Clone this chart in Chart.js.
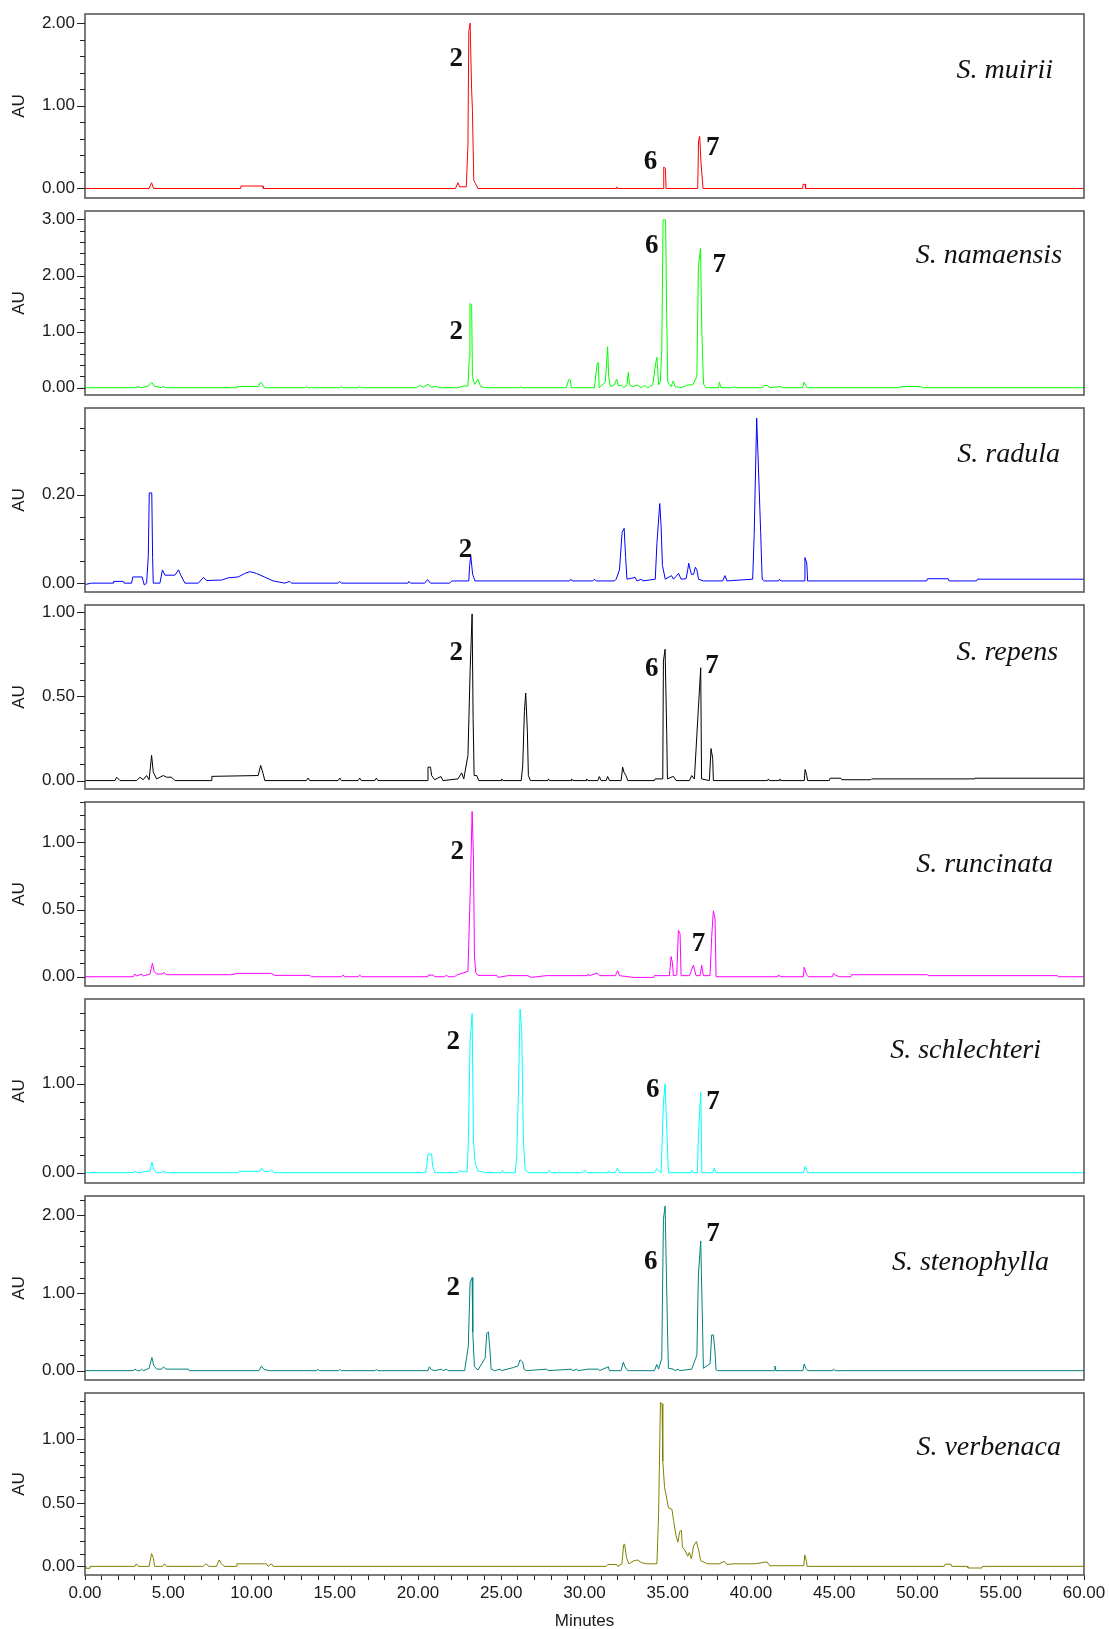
<!DOCTYPE html>
<html>
<head>
<meta charset="utf-8">
<script src="https://cdn.jsdelivr.net/npm/chart.js@4.4.1/dist/chart.umd.min.js"></script>
<style>
  body { margin: 0; background: #fff; }
  #figura { position: relative; width: 1109px; height: 1629px; overflow: hidden; }
  #figura canvas { position: absolute; left: 0; }
</style>
</head>
<body>
<div id="figura"></div>
<script>
// Nombres de las especies, de arriba hacia abajo
const especies = ['S. muirii', 'S. namaensis', 'S. radula', 'S. repens',
                  'S. runcinata', 'S. schlechteri', 'S. stenophylla', 'S. verbenaca'];

// Cromatogramas: [minutos, AU]
const muirii = [[0,0],[3.85,0],[4.0,0.07],[4.12,0],[9.35,0],[9.36,0.03],[10.7,0.03],[10.71,0],
  [22.25,0],[22.4,0.07],[22.5,0.02],[22.9,0.02],[23.0,0.52],[23.05,1.9],[23.13,2.0],[23.22,1.2],
  [23.27,0.94],[23.35,0.1],[23.45,0.06],[23.6,0],[31.9,0],[31.95,0.02],[32.0,0],[34.72,0],
  [34.76,0.26],[34.86,0.24],[34.9,0],[36.8,0],[36.85,0.58],[36.92,0.63],[37.0,0.3],[37.12,0],
  [43.1,0],[43.13,0.05],[43.25,0.05],[43.28,0],[60,0]];

const namaensis = [[0,0],[3.0,0],[3.2,0.02],[3.4,0],[3.8,0.03],[4.0,0.1],[4.15,0.03],[4.6,0],
  [4.7,0.03],[4.8,0],[9.1,0],[9.12,0.02],[10.4,0.02],[10.55,0.1],[10.7,0.04],[10.8,0],[13.2,0],
  [13.3,0.02],[13.4,0],[15.3,0],[15.4,0.02],[15.5,0],[16.4,0],[16.5,0.02],[16.6,0],[19.9,0],
  [20.1,0.04],[20.3,0.01],[20.6,0.06],[20.8,0.01],[21.1,0.02],[21.3,0],[22.4,0],[22.7,0.03],
  [23.0,0.03],[23.08,0.54],[23.12,1.5],[23.22,1.48],[23.27,0.2],[23.4,0.06],[23.6,0.15],
  [23.75,0.03],[24.0,0],[26.1,0],[26.15,0.02],[26.2,0],[28.9,0],[29.05,0.14],[29.15,0.14],
  [29.2,0],[30.6,0],[30.75,0.42],[30.83,0.45],[30.88,0],[31.25,0.1],[31.39,0.73],[31.45,0.2],
  [31.55,0.02],[31.8,0.05],[31.93,0.15],[32.05,0.03],[32.2,0.05],[32.35,0],[32.55,0.05],
  [32.63,0.27],[32.7,0.05],[32.9,0.02],[33.2,0.05],[33.4,0],[33.6,0.04],[33.8,0],[34.1,0.05],
  [34.28,0.45],[34.35,0.54],[34.45,0.05],[34.55,0.1],[34.64,0.66],[34.72,2.99],[34.87,2.99],
  [34.93,1.44],[35.0,0.1],[35.2,0.02],[35.33,0.12],[35.45,0.02],[35.8,0],[36.2,0.05],[36.5,0.05],
  [36.75,0.2],[36.84,2.16],[36.97,2.48],[37.05,0.96],[37.15,0.06],[37.3,0],[38.05,0],[38.1,0.1],
  [38.2,0],[38.9,0],[39.0,0.02],[39.1,0],[40.7,0],[40.8,0.04],[41.0,0.04],[41.1,0],[41.8,0.02],
  [41.9,0],[43.1,0],[43.18,0.1],[43.3,0.03],[43.4,0],[48.9,0],[49.0,0.02],[50.2,0.02],[50.3,0],[60,0]];

const radula = [[0,-0.003],[0.4,0],[1.7,0],[1.72,0.004],[2.3,0.004],[2.35,0],[2.8,0],[2.87,0.014],
  [3.43,0.014],[3.56,-0.004],[3.7,0],[3.8,0.06],[3.86,0.204],[4.01,0.204],[4.06,0.058],[4.1,0],
  [4.5,0],[4.65,0.03],[4.8,0.018],[5.4,0.018],[5.62,0.03],[5.75,0.018],[6.0,0],[6.8,0],
  [7.12,0.013],[7.3,0.006],[8.2,0.007],[8.6,0.012],[9.2,0.014],[9.6,0.022],[9.91,0.026],
  [10.3,0.022],[10.78,0.014],[11.3,0.005],[12.0,0],[12.3,0.004],[12.4,0],[15.2,0],[15.3,0.004],
  [15.4,0],[19.4,0],[19.46,0.004],[19.55,0],[20.4,0],[20.57,0.008],[20.75,0],[21.9,0],
  [22.03,0.005],[23.05,0.005],[23.1,0.04],[23.17,0.062],[23.28,0.02],[23.35,0.013],[23.42,0.005],
  [29.1,0.005],[29.18,0.009],[29.26,0.005],[30.5,0.005],[30.6,0.009],[30.7,0.005],[31.8,0.005],
  [31.9,0.009],[32.1,0.03],[32.26,0.115],[32.38,0.124],[32.47,0.058],[32.55,0.009],[33.04,0.013],
  [33.15,0.005],[33.43,0.009],[33.5,0.005],[34.25,0.009],[34.35,0.09],[34.52,0.18],[34.6,0.13],
  [34.68,0.04],[34.85,0.009],[35.22,0.017],[35.35,0.009],[35.65,0.022],[35.8,0.009],[36.1,0.01],
  [36.2,0.03],[36.26,0.045],[36.35,0.03],[36.42,0.02],[36.55,0.02],[36.66,0.036],[36.75,0.03],
  [36.85,0.009],[37.14,0.005],[38.3,0.005],[38.44,0.017],[38.55,0.005],[40.1,0.009],[40.19,0.108],
  [40.34,0.373],[40.42,0.29],[40.58,0.115],[40.67,0.009],[40.8,0.005],[41.65,0.005],[41.71,0.009],
  [41.8,0.005],[43.2,0.005],[43.24,0.058],[43.35,0.045],[43.4,0.005],[50.55,0.005],[50.6,0.01],
  [51.84,0.01],[51.9,0.005],[53.55,0.005],[53.6,0.009],[60,0.009]];

const repens = [[0,0],[1.8,0],[1.9,0.02],[2.1,0],[3.1,0],[3.3,0.02],[3.5,0.005],[3.7,0.03],
  [3.85,0.005],[4.0,0.15],[4.1,0.05],[4.3,0.01],[4.7,0.03],[4.9,0.02],[5.2,0.02],[5.4,0],[7.6,0],
  [7.62,0.025],[10.4,0.03],[10.55,0.09],[10.7,0.04],[10.8,0],[13.3,0],[13.4,0.015],[13.5,0],
  [15.2,0],[15.3,0.015],[15.4,0],[16.4,0],[16.5,0.015],[16.6,0],[17.4,0],[17.5,0.015],[17.6,0],
  [20.55,0],[20.6,0.08],[20.75,0.08],[20.82,0.03],[21.0,0.005],[21.38,0.024],[21.5,0],[22.4,0.01],
  [22.62,0.046],[22.75,0.01],[23.0,0.15],[23.13,0.65],[23.25,0.99],[23.31,0.37],[23.37,0.03],
  [23.53,0.03],[23.65,0],[25.0,0],[25.03,0.01],[25.1,0],[26.2,0],[26.29,0.09],[26.39,0.41],
  [26.47,0.52],[26.57,0.29],[26.63,0.03],[26.75,0],[27.8,0],[27.83,0.01],[27.9,0],[29.2,0],
  [29.23,0.01],[29.3,0],[30.1,0],[30.13,0.01],[30.2,0],[30.8,0],[30.89,0.024],[31.0,0],[31.3,0],
  [31.39,0.024],[31.5,0],[32.2,0],[32.29,0.08],[32.37,0.05],[32.49,0.03],[32.6,0],[34.2,0],
  [34.24,0.01],[34.7,0.01],[34.74,0.71],[34.84,0.78],[34.94,0.27],[34.98,0.01],[35.34,0.025],
  [35.5,0],[36.3,0],[36.44,0.03],[36.6,0.01],[36.84,0.43],[36.98,0.67],[37.03,0.01],[37.5,0],
  [37.6,0.19],[37.7,0.13],[37.74,0],[41.0,0],[41.04,0.01],[41.1,0],[41.7,0],[41.74,0.01],[41.8,0],
  [43.2,0],[43.25,0.066],[43.35,0.03],[43.4,0],[44.7,0],[44.75,0.014],[45.4,0.014],[45.45,0.005],
  [47.2,0.005],[47.25,0.01],[53.4,0.01],[53.45,0.014],[60,0.014]];

const runcinata = [[0,0],[2.9,0],[3.0,0.02],[3.1,0.005],[3.4,0.02],[3.5,0.005],[3.9,0.02],
  [4.05,0.1],[4.15,0.04],[4.3,0.02],[4.6,0.02],[4.75,0.03],[4.9,0.015],[8.8,0.015],[9.2,0.025],
  [11.2,0.025],[11.4,0.01],[13.5,0.01],[13.6,0],[15.4,0],[15.5,0.012],[15.6,0],[16.4,0],
  [16.5,0.012],[16.6,0],[20.6,0],[20.62,0.012],[20.92,0.012],[21.0,0],[21.6,0],[21.72,0.012],
  [21.8,0],[22.2,0],[22.32,0.012],[23.0,0.04],[23.13,0.6],[23.25,1.23],[23.33,0.9],[23.39,0.155],
  [23.47,0.03],[23.6,0.01],[24.73,0.01],[24.8,-0.005],[25.4,0.008],[26.6,0.008],[26.8,-0.005],
  [27.7,0.008],[30.2,0.008],[30.23,0.02],[30.3,0.008],[30.77,0.027],[30.9,0.008],[31.85,0.008],
  [31.99,0.044],[32.1,0.008],[32.93,-0.005],[34.14,-0.005],[34.2,0.008],[35.1,0.008],[35.2,0.15],
  [35.28,0.105],[35.34,0.008],[35.54,0.012],[35.64,0.345],[35.74,0.32],[35.8,0.008],[36.3,0.008],
  [36.54,0.086],[36.7,0.008],[36.94,0.008],[37.04,0.086],[37.14,0.008],[37.54,0.008],[37.64,0.3],
  [37.74,0.49],[37.84,0.43],[37.9,0],[41.6,0],[41.64,0.012],[41.8,0],[43.15,0],[43.19,0.07],
  [43.35,0.012],[43.45,0],[44.9,0],[44.95,0.025],[45.1,0.01],[45.3,0],[46.0,0],[46.05,0.015],
  [50.6,0.015],[50.65,0.008],[58.4,0.008],[58.45,0],[60,0]];

const schlechteri = [[0,0],[2.9,0],[3.0,0.015],[3.15,0],[3.9,0.02],[4.02,0.12],[4.12,0.04],
  [4.3,0],[4.6,0],[4.7,0.02],[4.85,0],[9.2,0],[9.25,0.015],[10.5,0.015],[10.6,0.05],[10.75,0.015],
  [11.1,0.015],[11.2,0.03],[11.35,0],[20.45,0],[20.52,0.07],[20.6,0.21],[20.82,0.21],[20.88,0.07],
  [21.02,0],[22.4,0],[22.52,0.025],[22.7,0.01],[22.95,0.01],[23.02,0.32],[23.13,1.49],[23.25,1.79],
  [23.33,0.37],[23.43,0.11],[23.6,0.02],[23.93,0.005],[24.0,0],[25.0,0],[25.07,0.025],[25.15,0],
  [25.85,0],[25.93,0.2],[26.03,0.9],[26.13,1.84],[26.23,1.6],[26.33,0.37],[26.43,0.04],[26.6,0],
  [27.8,0],[27.89,0.025],[28.0,0],[29.9,0],[30.03,0.025],[30.15,0],[31.4,0],[31.43,0.02],[31.5,0],
  [31.85,0],[31.97,0.05],[32.1,0],[34.2,0],[34.34,0.045],[34.45,0.02],[34.6,0],[34.74,0.78],
  [34.84,1.0],[34.98,0.3],[35.04,0],[36.4,0],[36.44,0.025],[36.55,0],[36.78,0],[36.84,0.41],
  [36.98,0.91],[37.05,0],[37.7,0],[37.78,0.05],[37.9,0],[43.15,0],[43.25,0.07],[43.35,0.02],
  [43.4,0],[60,0]];

const stenophylla = [[0,0],[2.9,0],[3.0,0.02],[3.15,0],[3.3,0],[3.4,0.02],[3.5,0],[3.85,0.03],
  [4.02,0.17],[4.12,0.07],[4.3,0.02],[4.6,0.02],[4.72,0.05],[4.85,0.02],[6.2,0.02],[6.25,0],
  [10.45,0],[10.6,0.06],[10.75,0.015],[11.1,0],[13.9,0],[14.0,0.015],[14.1,0],[15.2,0],
  [15.3,0.015],[15.4,0],[17.4,0],[17.5,0.015],[17.6,0],[20.6,0],[20.68,0.05],[20.8,0.015],[21.0,0],
  [21.42,0.02],[21.5,0],[21.72,0.02],[21.8,0],[22.8,0],[23.02,0.31],[23.13,1.14],[23.25,1.2],
  [23.29,0.5],[23.39,0.05],[23.6,0.01],[24.03,0.16],[24.13,0.48],[24.23,0.5],[24.33,0.24],
  [24.39,0.02],[24.6,0],[24.93,0.02],[25.0,0],[25.73,0.04],[26.0,0.06],[26.13,0.14],[26.29,0.11],
  [26.37,0.02],[26.5,0],[27.73,0.02],[27.8,0],[29.23,0.02],[29.3,0],[29.53,0.02],[29.6,0],
  [30.23,0.02],[30.83,0.02],[30.9,0],[31.43,0.05],[31.5,0],[32.2,0],[32.33,0.11],[32.43,0.05],
  [32.6,0],[34.2,0],[34.34,0.08],[34.45,0.02],[34.64,0.16],[34.74,1.95],[34.84,2.12],[34.98,0.59],
  [35.04,0.03],[35.34,0.02],[35.4,0],[35.64,0.02],[35.7,0],[36.44,0.02],[36.75,0.2],[36.84,1.23],
  [36.98,1.67],[37.08,0.67],[37.14,0.03],[37.54,0.09],[37.64,0.46],[37.74,0.46],[37.84,0.24],
  [37.9,0.01],[38.0,0],[41.4,0],[41.44,0.06],[41.5,0],[43.12,0],[43.19,0.085],[43.3,0.03],[43.4,0],
  [44.9,0],[44.95,0.02],[45.05,0],[60,0]];

const verbenaca = [[0,0],[0.05,-0.015],[0.25,-0.015],[0.3,0],[3.0,0],[3.08,0.02],[3.2,0],
  [3.85,0],[4.0,0.1],[4.1,0.07],[4.18,0],[4.65,0],[4.77,0.02],[4.9,0],[7.1,0],[7.25,0.02],
  [7.45,0],[7.9,0],[8.06,0.05],[8.2,0.02],[8.35,0],[9.1,0],[9.12,0.02],[10.9,0.02],[11.0,0],
  [11.2,0.02],[11.3,0],[31.3,0],[31.41,0.015],[31.93,0.015],[32.0,0],[32.25,0.02],[32.35,0.17],
  [32.41,0.175],[32.52,0.07],[32.67,0.02],[32.98,0.045],[33.2,0.05],[33.4,0.03],[33.72,0.02],
  [34.35,0.02],[34.45,0.41],[34.56,1.29],[34.66,1.28],[34.7,0.83],[34.81,0.62],[34.91,0.555],
  [35.04,0.46],[35.25,0.45],[35.35,0.36],[35.5,0.24],[35.61,0.19],[35.71,0.27],[35.82,0.285],
  [35.88,0.15],[36.0,0.135],[36.2,0.08],[36.3,0.11],[36.42,0.058],[36.55,0.16],[36.72,0.196],
  [36.87,0.12],[36.97,0.045],[37.39,0.02],[38.1,0.02],[38.4,0.04],[38.55,0.015],[38.96,0.02],
  [40.22,0.02],[40.96,0.035],[41.13,0.005],[43.17,0.005],[43.23,0.09],[43.33,0.04],[43.37,0],
  [51.6,0],[51.67,0.017],[52.0,0.017],[52.05,0],[53.0,0],[53.03,-0.013],[53.87,-0.013],
  [53.9,0],[60,0]];

const trazas = [muirii, namaensis, radula, repens, runcinata, schlechteri, stenophylla, verbenaca];

// Eje Y de cada panel: [mínimo, máximo, paso menor, paso con etiqueta]
const ejesY = [[-0.115, 2.11, 0.2, 1], [-0.13, 3.15, 0.2, 1], [-0.02, 0.396, 0.05, 0.2],
  [-0.05, 1.043, 0.1, 0.5], [-0.069, 1.30, 0.1, 0.5], [-0.116, 1.953, 0.2, 1],
  [-0.12, 2.25, 0.2, 1], [-0.068, 1.365, 0.1, 0.5]];

// Eje X (minutos)
const minutosMax = 60;
const pasoMinutos = 5;

// Compuestos marcados: [número, minutos, AU]
const picos = [
  [['2', 22.3, 1.57], ['6', 33.97, 0.32], ['7', 37.7, 0.49]],
  [['2', 22.3, 0.99], ['6', 34.04, 2.53], ['7', 38.1, 2.19]],
  [['2', 22.86, 0.075]],
  [['2', 22.3, 0.76], ['6', 34.04, 0.665], ['7', 37.66, 0.68]],
  [['2', 22.36, 0.93], ['7', 36.85, 0.24]],
  [['2', 22.11, 1.47], ['6', 34.1, 0.93], ['7', 37.72, 0.79]],
  [['2', 22.11, 1.07], ['6', 33.98, 1.40], ['7', 37.72, 1.76]],
  []
];

// ---- estilo y disposición ----
const colores = ['#ff0000', '#00ff00', '#0000ff', '#000000', '#ff00ff', '#00ffff', '#008080', '#808000'];
// nombre de la especie: borde derecho y centro vertical, como fracción del área del gráfico
const ubicacionNombre = [[0.969, 0.307], [0.978, 0.24], [0.976, 0.253], [0.974, 0.26],
  [0.969, 0.34], [0.957, 0.283], [0.965, 0.36], [0.977, 0.30]];

const ANCHO = 1109, ALTO_TOTAL = 1629;
const ALTO_PANEL = 184, ALTO_ULTIMO = 182, PASO_PANEL = 197.1, MARGEN_SUP = 13.5;
const ANCHO_EJE_Y = 85, MARGEN_DER = 25, RELLENO = 10;
const fuenteEjes = { family: '"Liberation Sans", Arial, sans-serif', size: 17 };

function esMultiplo(v, paso) {
  const r = v / paso;
  return Math.abs(r - Math.round(r)) < 1e-6;
}

// marco gris alrededor del área del gráfico
const marco = {
  id: 'marco',
  afterDatasetsDraw(chart) {
    const { ctx, chartArea: a } = chart;
    ctx.save();
    ctx.strokeStyle = '#5a5a5a';
    ctx.lineWidth = 1.6;
    ctx.strokeRect(a.left, a.top, a.right - a.left, a.bottom - a.top);
    ctx.restore();
  }
};

// marcas del eje Y: largas donde hay etiqueta, cortas en las intermedias
const marcasY = {
  id: 'marcasY',
  afterDraw(chart, args, opts) {
    const { ctx } = chart;
    const y = chart.scales.y;
    ctx.save();
    ctx.strokeStyle = '#222';
    ctx.lineWidth = 1;
    y.ticks.forEach(t => {
      const py = Math.round(y.getPixelForValue(t.value)) + 0.5;
      const largo = esMultiplo(t.value, opts.mayor) ? 8 : 5;
      ctx.beginPath();
      ctx.moveTo(y.right - largo, py);
      ctx.lineTo(y.right, py);
      ctx.stroke();
    });
    ctx.restore();
  }
};

// textos: especie en cursiva y números de compuesto en negrita
const rotulos = {
  id: 'rotulos',
  afterDatasetsDraw(chart, args, opts) {
    const { ctx, chartArea: a, scales } = chart;
    ctx.save();
    ctx.fillStyle = '#111';
    ctx.textBaseline = 'middle';
    ctx.font = 'bold 27px "Liberation Serif", "Times New Roman", serif';
    ctx.textAlign = 'center';
    opts.picos.forEach(([txt, t, v]) => {
      ctx.fillText(txt, scales.x.getPixelForValue(t), scales.y.getPixelForValue(v));
    });
    ctx.font = 'italic 28px "Liberation Serif", "Times New Roman", serif';
    ctx.textAlign = 'right';
    const [fx, fy] = opts.ubicacion;
    ctx.fillText(opts.nombre, a.left + fx * (a.right - a.left), a.top + fy * (a.bottom - a.top));
    ctx.restore();
  }
};

const figura = document.getElementById('figura');

trazas.forEach((traza, i) => {
  const ultimo = i === trazas.length - 1;
  const topPanel = Math.round(MARGEN_SUP + i * PASO_PANEL);
  const topLienzo = topPanel - RELLENO;
  const altoLienzo = ultimo ? ALTO_TOTAL - topLienzo : ALTO_PANEL + 2 * RELLENO;
  const altoEjeX = ultimo ? altoLienzo - RELLENO - ALTO_ULTIMO : 0;
  const [yMin, yMax, pasoMenor, pasoMayor] = ejesY[i];

  const lienzo = document.createElement('canvas');
  lienzo.width = ANCHO;
  lienzo.height = altoLienzo;
  lienzo.style.top = topLienzo + 'px';
  figura.appendChild(lienzo);

  new Chart(lienzo.getContext('2d'), {
    type: 'line',
    data: {
      datasets: [{
        label: especies[i],
        data: traza,
        borderColor: colores[i],
        borderWidth: 1,
        pointRadius: 0,
        tension: 0,
        fill: false
      }]
    },
    options: {
      responsive: false,
      animation: false,
      devicePixelRatio: 1,
      layout: { padding: { top: RELLENO, bottom: ultimo ? 0 : RELLENO, left: 0, right: MARGEN_DER } },
      plugins: {
        legend: { display: false },
        tooltip: { enabled: false },
        marcasY: { mayor: pasoMayor },
        rotulos: { picos: picos[i], nombre: especies[i], ubicacion: ubicacionNombre[i] }
      },
      scales: {
        x: {
          type: 'linear',
          min: 0,
          max: minutosMax,
          display: ultimo,
          afterFit: (escala) => {
            escala.height = altoEjeX;
            escala.paddingLeft = 0;
            escala.paddingRight = 0;
          },
          border: { display: false },
          grid: { drawOnChartArea: false, drawTicks: true, tickLength: 5, color: '#222' },
          ticks: {
            stepSize: 1,
            autoSkip: false,
            maxRotation: 0,
            includeBounds: false,
            padding: 3,
            color: '#1a1a1a',
            font: fuenteEjes,
            callback: (v) => esMultiplo(v, pasoMinutos) ? v.toFixed(2) : ''
          },
          title: { display: true, text: 'Minutes', color: '#1a1a1a', font: fuenteEjes, padding: { top: 0, bottom: -3 } }
        },
        y: {
          type: 'linear',
          min: yMin,
          max: yMax,
          afterFit: (escala) => {
            escala.width = ANCHO_EJE_Y;
            escala.paddingTop = 0;
            escala.paddingBottom = 0;
          },
          border: { display: false },
          grid: { display: false, drawTicks: false },
          ticks: {
            stepSize: pasoMenor,
            autoSkip: false,
            includeBounds: false,
            padding: 10,
            color: '#1a1a1a',
            font: fuenteEjes,
            callback: (v) => esMultiplo(v, pasoMayor) ? v.toFixed(2) : ''
          },
          title: { display: true, text: 'AU', color: '#1a1a1a', font: fuenteEjes, padding: { top: 9, bottom: 0 } }
        }
      }
    },
    plugins: [marco, marcasY, rotulos]
  });
});
</script>
</body>
</html>
